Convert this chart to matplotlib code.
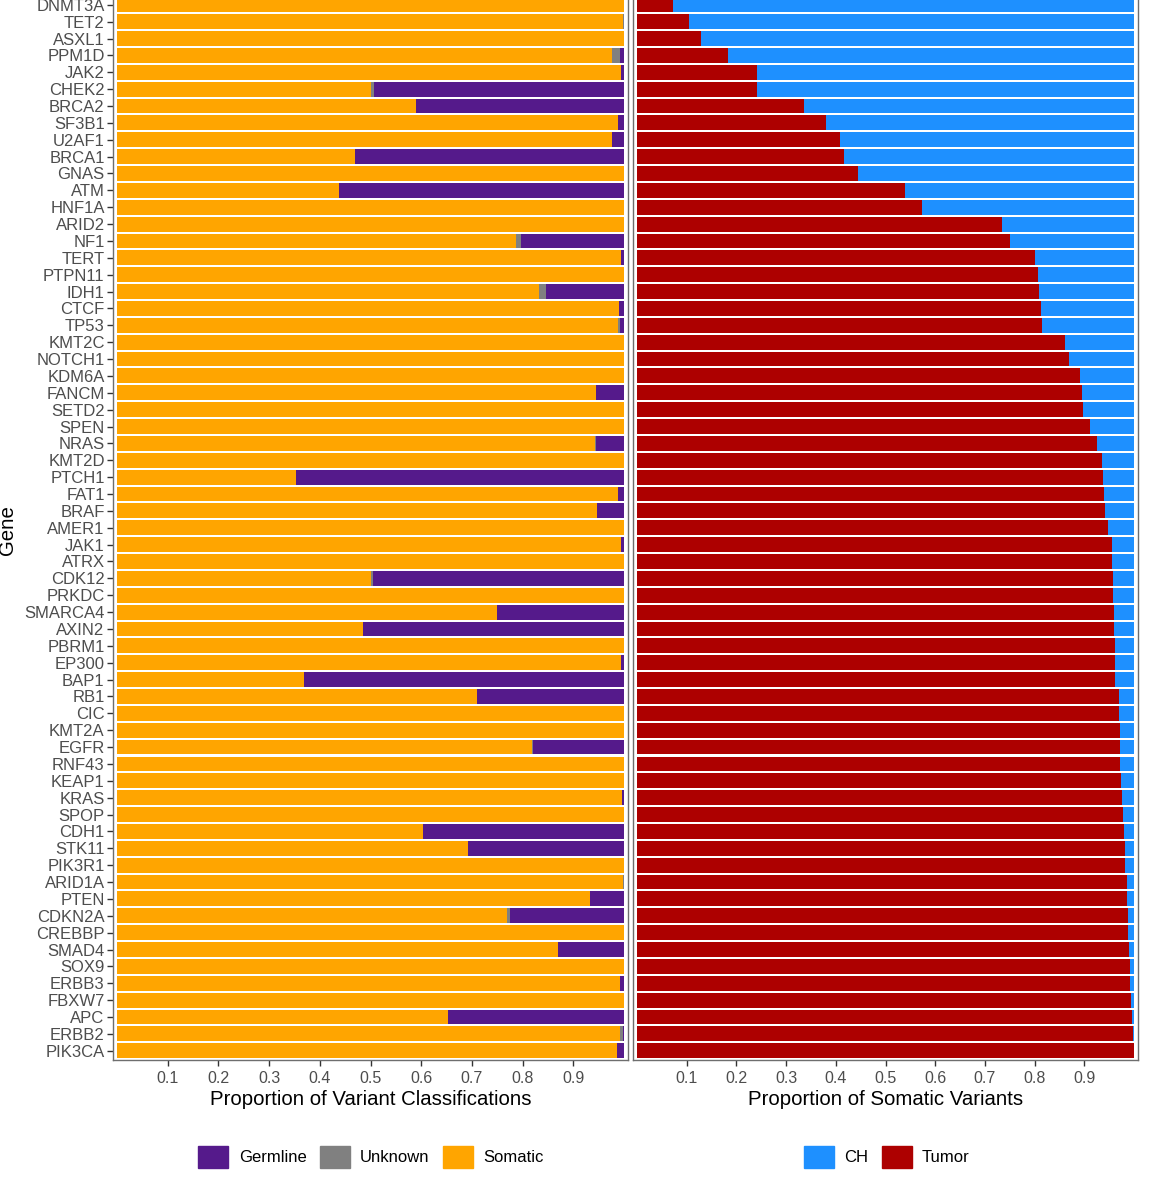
import matplotlib

matplotlib.use("Agg")
import matplotlib.pyplot as plt
from matplotlib.patches import Patch

plt.rcParams["font.family"] = ["Liberation Sans", "DejaVu Sans"]

# genes, top to bottom
genes = [
    "DNMT3A", "TET2", "ASXL1", "PPM1D", "JAK2", "CHEK2", "BRCA2", "SF3B1",
    "U2AF1", "BRCA1", "GNAS", "ATM", "HNF1A", "ARID2", "NF1", "TERT",
    "PTPN11", "IDH1", "CTCF", "TP53", "KMT2C", "NOTCH1", "KDM6A", "FANCM",
    "SETD2", "SPEN", "NRAS", "KMT2D", "PTCH1", "FAT1", "BRAF", "AMER1",
    "JAK1", "ATRX", "CDK12", "PRKDC", "SMARCA4", "AXIN2", "PBRM1", "EP300",
    "BAP1", "RB1", "CIC", "KMT2A", "EGFR", "RNF43", "KEAP1", "KRAS",
    "SPOP", "CDH1", "STK11", "PIK3R1", "ARID1A", "PTEN", "CDKN2A", "CREBBP",
    "SMAD4", "SOX9", "ERBB3", "FBXW7", "APC", "ERBB2", "PIK3CA",
]

# left panel: proportion of variant classifications
somatic = [
    1.000, 0.998, 1.000, 0.976, 0.995, 0.500, 0.589, 0.989,
    0.976, 0.470, 1.000, 0.438, 1.000, 1.000, 0.787, 0.995,
    1.000, 0.832, 0.990, 0.989, 1.000, 1.000, 1.000, 0.944,
    1.000, 1.000, 0.942, 1.000, 0.354, 0.988, 0.947, 1.000,
    0.995, 1.000, 0.501, 1.000, 0.750, 0.486, 1.000, 0.995,
    0.369, 0.711, 1.000, 1.000, 0.818, 1.000, 1.000, 0.997,
    1.000, 0.604, 0.692, 1.000, 0.998, 0.933, 0.769, 1.000,
    0.869, 1.000, 0.992, 1.000, 0.652, 0.993, 0.987,
]
unknown = [
    0.000, 0.002, 0.000, 0.016, 0.000, 0.006, 0.000, 0.000,
    0.000, 0.000, 0.000, 0.000, 0.000, 0.000, 0.010, 0.000,
    0.000, 0.014, 0.000, 0.003, 0.000, 0.000, 0.000, 0.000,
    0.000, 0.000, 0.003, 0.000, 0.000, 0.000, 0.000, 0.000,
    0.000, 0.000, 0.003, 0.000, 0.000, 0.000, 0.000, 0.000,
    0.000, 0.000, 0.000, 0.000, 0.002, 0.000, 0.000, 0.000,
    0.000, 0.000, 0.000, 0.000, 0.002, 0.000, 0.006, 0.000,
    0.000, 0.000, 0.000, 0.000, 0.000, 0.005, 0.000,
]
germline = [
    0.000, 0.000, 0.000, 0.008, 0.005, 0.494, 0.411, 0.011,
    0.024, 0.530, 0.000, 0.562, 0.000, 0.000, 0.203, 0.005,
    0.000, 0.154, 0.010, 0.008, 0.000, 0.000, 0.000, 0.056,
    0.000, 0.000, 0.055, 0.000, 0.646, 0.012, 0.053, 0.000,
    0.005, 0.000, 0.496, 0.000, 0.250, 0.514, 0.000, 0.005,
    0.631, 0.289, 0.000, 0.000, 0.180, 0.000, 0.000, 0.003,
    0.000, 0.396, 0.308, 0.000, 0.000, 0.067, 0.225, 0.000,
    0.131, 0.000, 0.008, 0.000, 0.348, 0.002, 0.013,
]

# right panel: proportion of somatic variants
tumor = [
    0.073, 0.105, 0.129, 0.183, 0.241, 0.242, 0.337, 0.381,
    0.408, 0.416, 0.445, 0.540, 0.574, 0.734, 0.750, 0.801,
    0.806, 0.809, 0.812, 0.815, 0.862, 0.870, 0.891, 0.895,
    0.898, 0.912, 0.925, 0.935, 0.938, 0.939, 0.941, 0.948,
    0.955, 0.956, 0.957, 0.958, 0.959, 0.960, 0.961, 0.962,
    0.962, 0.969, 0.970, 0.971, 0.972, 0.972, 0.973, 0.976,
    0.978, 0.980, 0.981, 0.982, 0.985, 0.986, 0.987, 0.988,
    0.990, 0.991, 0.992, 0.994, 0.996, 0.997, 0.999,
]
ch = [
    0.927, 0.895, 0.871, 0.817, 0.759, 0.758, 0.663, 0.619,
    0.592, 0.584, 0.555, 0.460, 0.426, 0.266, 0.250, 0.199,
    0.194, 0.191, 0.188, 0.185, 0.138, 0.130, 0.109, 0.105,
    0.102, 0.088, 0.075, 0.065, 0.062, 0.061, 0.059, 0.052,
    0.045, 0.044, 0.043, 0.042, 0.041, 0.040, 0.039, 0.038,
    0.038, 0.031, 0.030, 0.029, 0.028, 0.028, 0.027, 0.024,
    0.022, 0.020, 0.019, 0.018, 0.015, 0.014, 0.013, 0.012,
    0.010, 0.009, 0.008, 0.006, 0.004, 0.003, 0.001,
]

xticks = [0.1, 0.2, 0.3, 0.4, 0.5, 0.6, 0.7, 0.8, 0.9]

C_GERM = "#551A8B"
C_UNK = "#808080"
C_SOM = "#FFA500"
C_CH = "#1E90FF"
C_TUM = "#AD0000"
TICK_GREY = "#4D4D4D"
BORDER = "#6E6E6E"

W, H = 1165, 1200
fig = plt.figure(figsize=(W / 100, H / 100), dpi=100)


def px_axes(x0, x1, y_top, y_bot):
    return fig.add_axes([x0 / W, 1 - y_bot / H, (x1 - x0) / W, (y_bot - y_top) / H])


n = len(genes)
row_px = 16.87
pad_rows = 0.55
y_bot = 1060
y_top = y_bot - (n - 1 + 2 * pad_rows) * row_px

ax1 = px_axes(113, 628, y_top, y_bot)
ax2 = px_axes(633, 1138, y_top, y_bot)

ypos = list(range(n))
bh = 0.88

left = [0.0] * n
ax1.barh(ypos, somatic, left=left, height=bh, color=C_SOM, linewidth=0)
left = [a + b for a, b in zip(left, somatic)]
ax1.barh(ypos, unknown, left=left, height=bh, color=C_UNK, linewidth=0)
left = [a + b for a, b in zip(left, unknown)]
ax1.barh(ypos, germline, left=left, height=bh, color=C_GERM, linewidth=0)

ax2.barh(ypos, tumor, height=bh, color=C_TUM, linewidth=0)
ax2.barh(ypos, ch, left=tumor, height=bh, color=C_CH, linewidth=0)

for ax in (ax1, ax2):
    ax.set_xlim(-0.008, 1.008)
    ax.set_ylim(n - 1 + pad_rows, -pad_rows)
    ax.set_xticks(xticks)
    ax.set_xticklabels([f"{t:.1f}" for t in xticks])
    ax.tick_params(axis="x", length=4, width=1, color="#333333",
                   labelsize=11.5, labelcolor=TICK_GREY, pad=4)
    for s in ax.spines.values():
        s.set_color(BORDER)
        s.set_linewidth(1.0)

ax1.set_yticks(ypos)
ax1.set_yticklabels(genes)
ax1.tick_params(axis="y", length=4, width=1, color="#333333",
                labelsize=12, labelcolor=TICK_GREY, pad=2)
ax2.set_yticks([])

ax1.set_xlabel("Proportion of Variant Classifications", fontsize=14.7, labelpad=3)
ax2.set_xlabel("Proportion of Somatic Variants", fontsize=14.7, labelpad=3)
fig.text(8 / W, 1 - 530 / H, "Gene", rotation=90, fontsize=14.7,
         ha="center", va="center")

leg_kw = dict(frameon=False, fontsize=12, handlelength=1.8, handleheight=1.7,
              handletextpad=0.62, columnspacing=0.8, borderaxespad=0)
h1 = [Patch(color=C_GERM, label="Germline"), Patch(color=C_UNK, label="Unknown"),
      Patch(color=C_SOM, label="Somatic")]
fig.legend(handles=h1, ncol=3, loc="center",
           bbox_to_anchor=(371 / W, 1 - 1157 / H), **leg_kw)
h2 = [Patch(color=C_CH, label="CH"), Patch(color=C_TUM, label="Tumor")]
fig.legend(handles=h2, ncol=2, loc="center",
           bbox_to_anchor=(887 / W, 1 - 1157 / H), **leg_kw)

fig.savefig("out.png", dpi=100, facecolor="white")
